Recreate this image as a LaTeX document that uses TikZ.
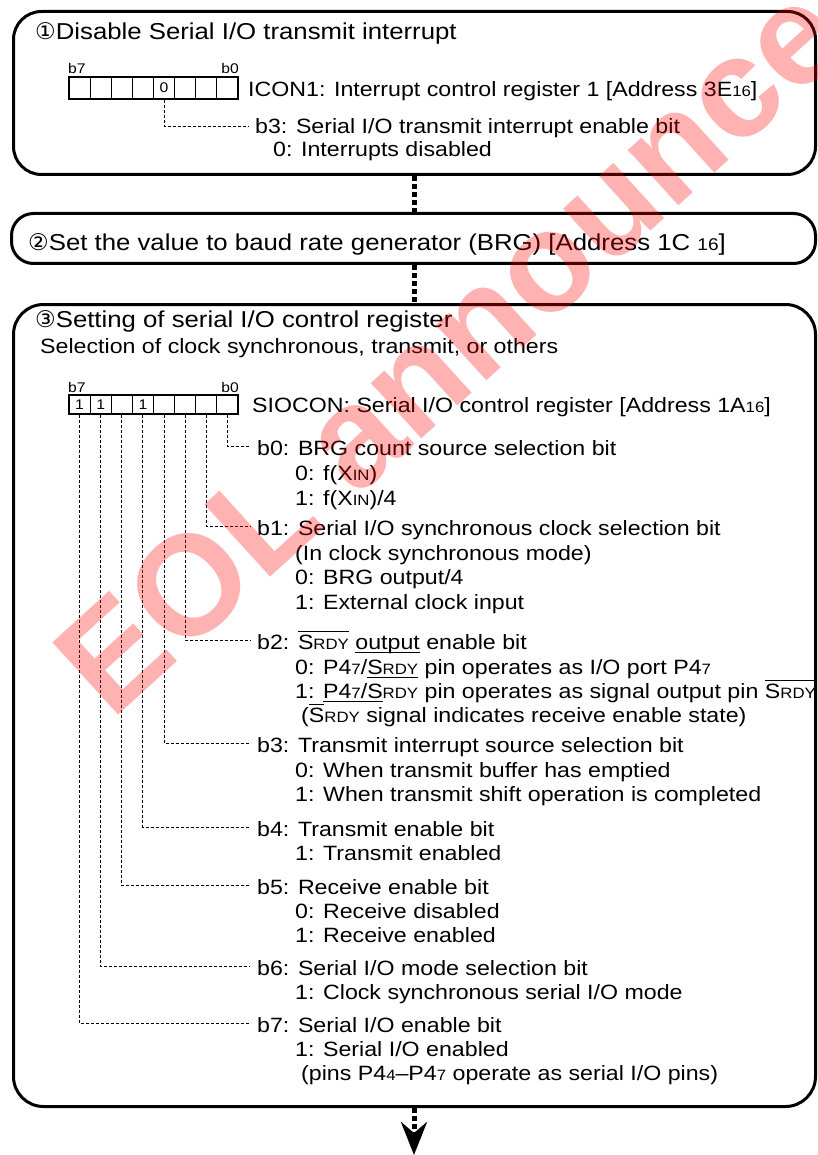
\documentclass[tikz,border=0pt]{standalone}
\usepackage{fontspec}
\setmainfont{Liberation Sans}[FakeStretch=1.12]
\newfontfamily\dv{DejaVu Sans}
\newfontfamily\wmfont{Liberation Sans}
\usetikzlibrary{arrows.meta}
\newcommand\sm[1]{{\fontsize{15}{15}\selectfont #1}}
\newcommand\smt[1]{{\fontsize{17}{17}\selectfont #1}}
\newcommand\ovl[1]{\setbox0\hbox{#1}\rlap{\raisebox{17pt}{\rule{\wd0}{0.8pt}}}\box0\relax}
\newcommand\unl[1]{\setbox0\hbox{#1}\rlap{\raisebox{-3.5pt}{\rule{\wd0}{0.8pt}}}\box0\relax}
\begin{document}
\begin{tikzpicture}[x=1pt,y=-1pt,
  box/.style={draw, line width=3pt, anchor=north west, inner sep=0pt},
  txt/.style={anchor=base west, inner sep=0pt, font=\fontsize{20.7}{24.5}\selectfont},
  ttl/.style={anchor=base west, inner sep=0pt, font=\fontsize{23}{26}\selectfont},
  lbl/.style={inner sep=0pt, font=\fontsize{14}{14}\selectfont},
  cell/.style={draw, line width=1.2pt, minimum width=21.125pt, inner sep=0pt, font=\fontsize{14}{14}\selectfont},
  leader/.style={draw, line width=0.9pt, dash pattern=on 3pt off 2pt},
  flow/.style={draw, line width=5pt, dash pattern=on 5pt off 3pt}]
\useasboundingbox (0,0) rectangle (818,1155);
\fill[white] (0,0) rectangle (818,1155);

% boxes
\node[box, rounded corners=28pt, minimum width=802pt, minimum height=163pt] (box1) at (12,10) {};
\node[box, rounded corners=22pt, minimum width=804pt, minimum height=50pt] (box2) at (10,212) {};
\node[box, rounded corners=30pt, minimum width=802pt, minimum height=802pt] (box3) at (12,303) {};

% connectors
\draw[flow] (box1.south) -- (box1.south |- box2.north);
\draw[flow] (box1.south |- box2.south) -- (box1.south |- box3.north);
\coordinate (end) at (414,1155);
\draw[flow, -{Stealth[length=33pt,width=26pt,inset=11pt]}] (box3.south -| end) -- (end);

% ---------- box 1
\node[ttl] (t1) at (35,40) {{\dv ①}Disable Serial I/O transmit interrupt};
\node[lbl, anchor=base west] (l1b7) at (68,74) {b7};
\node[lbl, anchor=base east] (l1b0) at (239,74) {b0};
\foreach \i/\v in {0/{},1/{},2/{},3/{},4/0,5/{},6/{},7/{}} {
  \pgfmathtruncatemacro\b{7-\i}
  \node[cell, minimum height=22pt] (ra\b) at ({69+21.125*(\i+0.5)},88) {\v};
}
\node[txt] (icon) at (248,97) {ICON1: Interrupt control register 1 [Address 3E\sm{16}]};
\node[txt] (i3) at (255,134) {b3: Serial I/O transmit interrupt enable bit};
\node[txt] (i3a) at (273,157) {0: Interrupts disabled};
\draw[leader] (ra3.south) |- ([xshift=-7pt,yshift=8pt]i3.base west);

% ---------- box 2
\node[ttl] (t2) at (28,251) {{\dv ②}Set the value to baud rate generator (BRG) [Address 1C \smt{16}]};

% ---------- box 3
\node[ttl] (t3) at (35,327) {{\dv ③}Setting of serial I/O control register};
\node[txt] (sel) at (40,353) {Selection of clock synchronous, transmit, or others};
\node[lbl, anchor=base west] (l3b7) at (68,392) {b7};
\node[lbl, anchor=base east] (l3b0) at (239,392) {b0};
\foreach \i/\v in {0/1,1/1,2/{},3/1,4/{},5/{},6/{},7/{}} {
  \pgfmathtruncatemacro\b{7-\i}
  \node[cell, minimum height=19pt] (rb\b) at ({69+21.125*(\i+0.5)},404.5) {\v};
}
\node[txt] (sio) at (252,412) {SIOCON: Serial I/O control register [Address 1A\sm{16}]};

\node[txt] (L0) at (257,455) {b0: BRG count source selection bit};
\node[txt] (L0a) at (295,480) {0: f(X\sm{IN})};
\node[txt] (L0b) at (295,505) {1: f(X\sm{IN})/4};

\node[txt] (L1) at (257,535) {b1: Serial I/O synchronous clock selection bit};
\node[txt] (L1a) at (295,560) {(In clock synchronous mode)};
\node[txt] (L1b) at (295,584) {0: BRG output/4};
\node[txt] (L1c) at (295,609) {1: External clock input};

\node[txt] (L2) at (257,649) {b2: \ovl{S\sm{RDY}} \unl{output} enable bit};
\node[txt] (L2a) at (295,674) {0: P4\sm{7}/\unl{S\sm{RDY}} pin operates as I/O port P4\sm{7}};
\node[txt] (L2b) at (295,698) {1: \unl{P4\sm{7}/S}\sm{RDY} pin operates as signal output pin \ovl{S\sm{RDY}}};
\node[txt] (L2c) at (301,722) {(\ovl{S}\sm{RDY} signal indicates receive enable state)};

\node[txt] (L3) at (257,752) {b3: Transmit interrupt source selection bit};
\node[txt] (L3a) at (295,777) {0: When transmit buffer has emptied};
\node[txt] (L3b) at (295,801) {1: When transmit shift operation is completed};

\node[txt] (L4) at (257,836) {b4: Transmit enable bit};
\node[txt] (L4a) at (295,860) {1: Transmit enabled};

\node[txt] (L5) at (257,894) {b5: Receive enable bit};
\node[txt] (L5a) at (295,918) {0: Receive disabled};
\node[txt] (L5b) at (295,942) {1: Receive enabled};

\node[txt] (L6) at (257,975) {b6: Serial I/O mode selection bit};
\node[txt] (L6a) at (295,999) {1: Clock synchronous serial I/O mode};

\node[txt] (L7) at (257,1032) {b7: Serial I/O enable bit};
\node[txt] (L7a) at (295,1056) {1: Serial I/O enabled};
\node[txt] (L7b) at (301,1080) {(pins P4\sm{4}–P4\sm{7} operate as serial I/O pins)};

\foreach \b in {0,...,7} {
  \draw[leader] (rb\b.south) |- ([xshift=-7pt,yshift=9pt]L\b.base west);
}

% watermark
\node[rotate=42.3, text=red, opacity=0.3, inner sep=0pt,
      font=\wmfont\bfseries\fontsize{142}{142}\selectfont] (wm) at (480,318) {EOL announced};
\end{tikzpicture}
\end{document}
